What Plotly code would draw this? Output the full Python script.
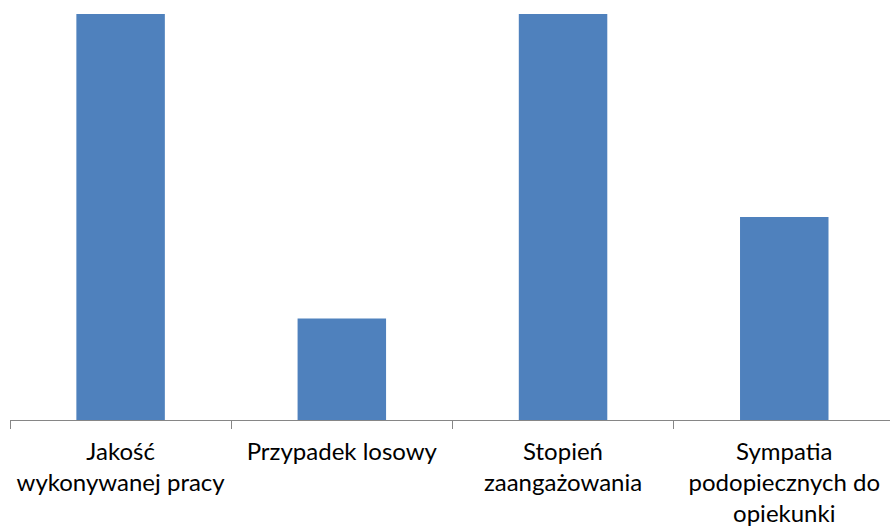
import plotly.graph_objects as go

categories = ["Jakość<br>wykonywanej pracy", "Przypadek losowy", "Stopień<br>zaangażowania",
              "Sympatia<br>podopiecznych do<br>opiekunki"]
values = [4, 1, 4, 2]

fig = go.Figure(go.Bar(x=categories, y=values, marker=dict(color="#4F81BD", line=dict(width=0)),
                       width=0.4))
fig.update_layout(
    width=890, height=531, margin=dict(l=10, r=0, t=14, b=111),
    paper_bgcolor="white", plot_bgcolor="white", showlegend=False,
    font=dict(family="Lato", size=24, color="#000000"),
)
fig.update_xaxes(type="category", range=[-0.5, 3.478], showline=True, linecolor="#868686", linewidth=1,
                 ticks="outside", tickson="boundaries", ticklen=8, tickcolor="#868686", tickwidth=1,
                 showgrid=False, zeroline=False, tickfont=dict(size=24), ticklabelstandoff=10)
fig.update_yaxes(range=[0, 4], visible=False, showgrid=False)
fig.write_html("out.html")
